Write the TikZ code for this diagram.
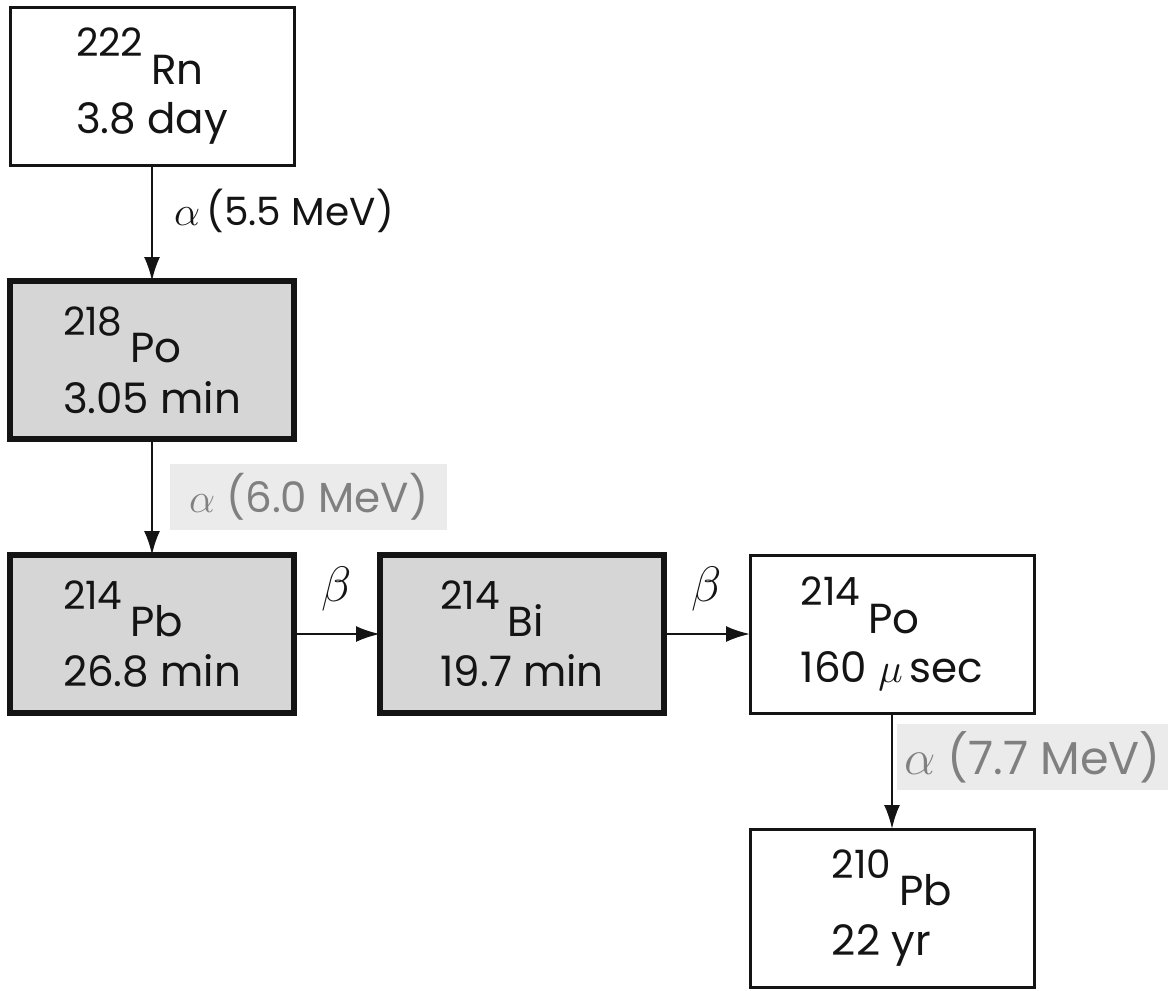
\documentclass[tikz,border=0pt]{standalone}
\usepackage{fontspec}
\setmainfont{Poppins}
\usepackage{tikz}
\usetikzlibrary{arrows.meta,positioning}
\definecolor{ink}{HTML}{141414}
\definecolor{stipple}{HTML}{D6D6D6}
\definecolor{paleStipple}{HTML}{EBEBEB}
\definecolor{fadedInk}{HTML}{808080}
\newcommand{\nucl}[2]{{\fontsize{19.5}{22}\selectfont #1\kern4pt\raisebox{-0.7em}{\fontsize{21}{24}\selectfont #2}}}
\tikzset{
  nuclide/.style={draw=ink,fill=white,line width=1.5pt,minimum width=142pt,minimum height=79pt,
                  align=left,text=ink,font=\fontsize{21}{25}\selectfont,inner sep=3pt,outer sep=0pt},
  shortlived/.style={nuclide,fill=stipple,line width=3pt},
  decay/.style={-{Latex[length=12pt,width=8pt]},line width=1.2pt,draw=ink},
  energy/.style={text=ink,font=\fontsize{19.5}{23}\selectfont,inner sep=0pt,outer sep=0pt},
  fadedenergy/.style={energy,fill=paleStipple,text=fadedInk,minimum height=33pt},
  emission/.style={text=ink,font=\fontsize{25}{29}\selectfont,inner sep=0pt}
}

\begin{document}
\begin{tikzpicture}[node distance=58pt and 43pt]
  \useasboundingbox (0,0) rectangle (584pt,-495.5pt);
  % chain of nuclides
  \node[nuclide] (rn222) at (76pt,-43pt) {\nucl{222}{Rn}\\[8pt]3.8 day};
  \node[shortlived,below=of rn222] (po218) {\nucl{218}{Po}\\[8pt]3.05 min};
  \node[shortlived,below=of po218] (pb214) {\nucl{214}{Pb}\\[8pt]26.8 min};
  \node[shortlived,right=of pb214] (bi214) {\nucl{214}{Bi}\\[8pt]19.7 min};
  \node[nuclide,right=of bi214] (po214) {\nucl{214}{Po}\\[8pt]160 $\mu$\,sec};
  \node[nuclide,below=of po214] (pb210) {\nucl{210}{Pb}\\[8pt]22 yr};
  % decays
  \draw[decay] (rn222) -- node[energy,pos=0.4,right=11pt] {$\alpha$\,(5.5 MeV)} (po218);
  \draw[decay] (po218) -- node[fadedenergy,font=\fontsize{21}{25}\selectfont,inner xsep=9.5pt,right=9pt] {$\alpha$ (6.0 MeV)} (pb214);
  \draw[decay] (pb214) -- node[emission,above=11pt] {$\beta$} (bi214);
  \draw[decay] (bi214) -- node[emission,above=11pt] {$\beta$} (po214);
  \draw[decay] (po214) -- node[fadedenergy,font=\fontsize{23}{27}\selectfont,inner xsep=3.5pt,pos=0.38,right=2.5pt] {$\alpha$ (7.7 MeV)} (pb210);
\end{tikzpicture}
\end{document}
